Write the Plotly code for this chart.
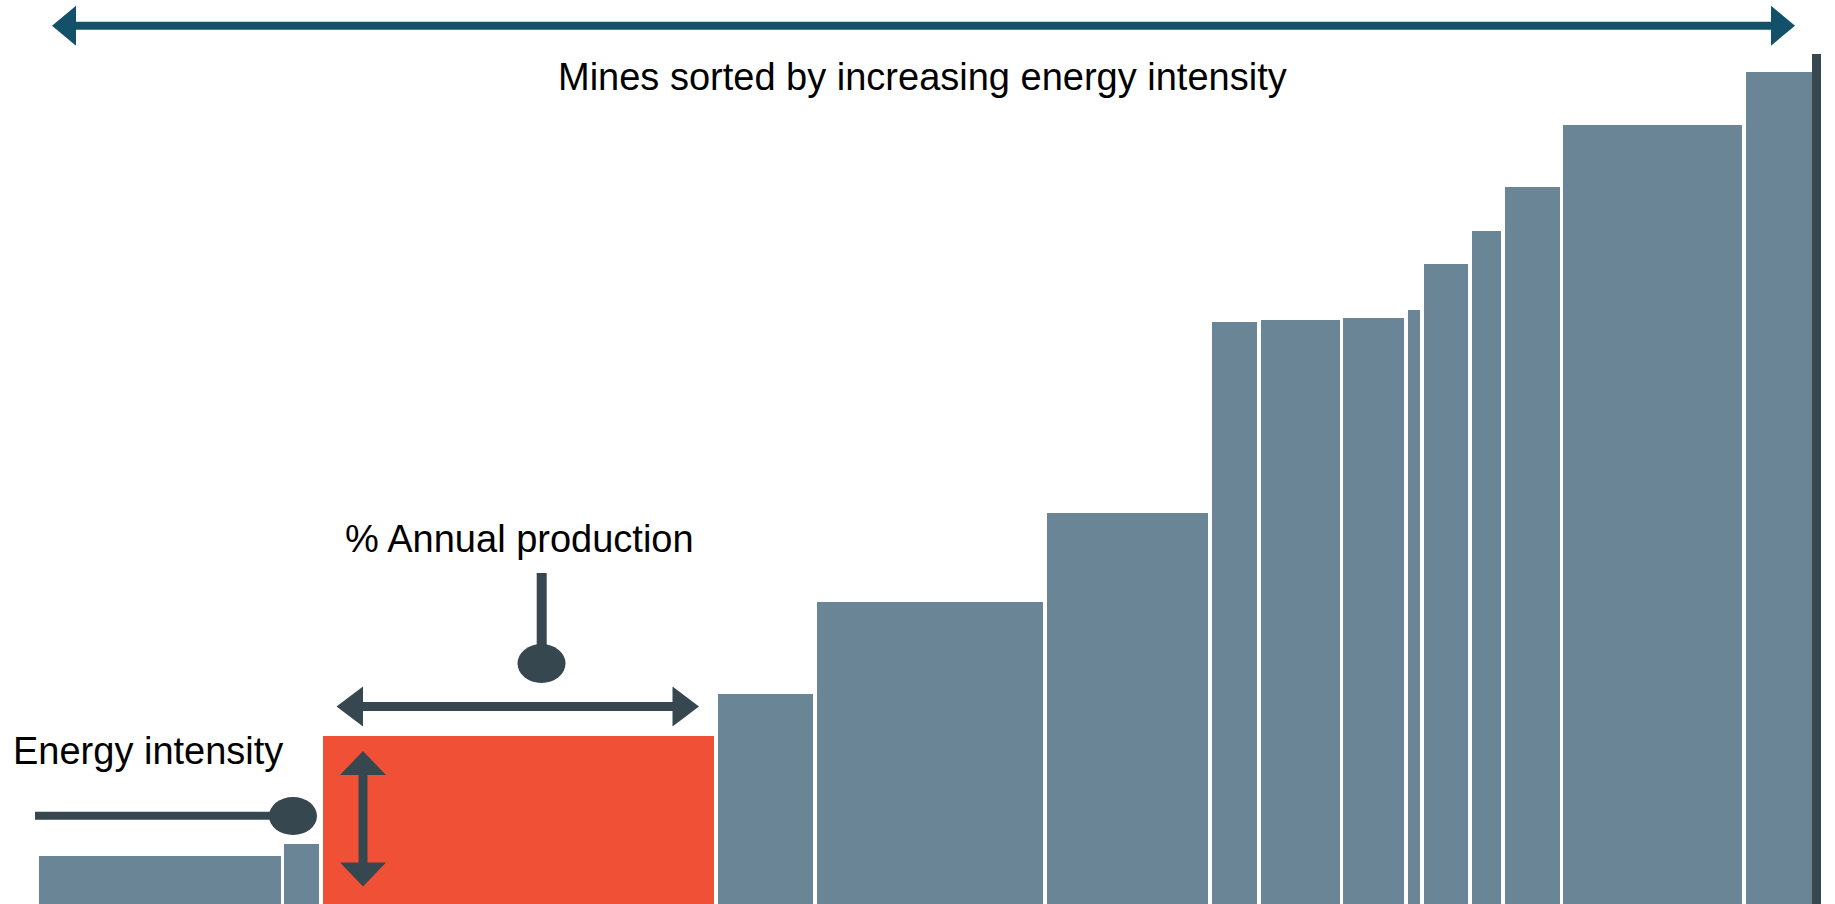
import plotly.graph_objects as go

# ---- data -------------------------------------------------------------
mines = [f"Mine {i}" for i in range(1, 17)]
# share of annual production (%) for each mine, sorted by energy intensity
production_share = [13.77, 2.16, 22.14, 5.54, 12.88, 9.25, 2.77, 4.60,
                    3.62, 0.90, 2.69, 1.87, 3.27, 10.22, 3.90, 0.42]
# energy intensity (arbitrary units)
energy_intensity = [5.6, 7.1, 19.8, 24.7, 35.5, 46.0, 68.5, 68.7,
                    69.0, 69.9, 75.3, 79.2, 84.3, 91.6, 97.9, 100.0]
highlight_index = 2
last_index = 15

# ---- styling ----------------------------------------------------------
W, H = 1835, 904
BAR = "#6A8596"
RED = "#F05036"
DARK = "#37474F"
TEAL = "#13506A"
FONT = "Liberation Sans, Arial, sans-serif"
GAP = 0.2  # visual gap between bars, in % units

lefts = []
acc = 0.0
for w in production_share:
    lefts.append(acc)
    acc += w

draw_left = [l + GAP / 2 for l in lefts]
draw_right = [l + w - GAP / 2 for l, w in zip(lefts, production_share)]
# the final (dark) mine sits flush against its neighbour
draw_left[last_index] = lefts[last_index] - GAP / 2
draw_right[last_index] = lefts[last_index] + production_share[last_index]
centers = [(a + b) / 2 for a, b in zip(draw_left, draw_right)]
draw_widths = [b - a for a, b in zip(draw_left, draw_right)]

colors = [BAR] * len(mines)
colors[highlight_index] = RED
colors[last_index] = DARK

fig = go.Figure(go.Bar(
    x=centers, y=energy_intensity, width=draw_widths,
    marker=dict(color=colors, line=dict(width=0)),
    hovertext=mines, hoverinfo="text",
))

# axis ranges: 0% sits at px 37, 100% at px 1821; baseline at the bottom
px_per_pct = (1821 - 37) / 100.0
px_per_unit = 8.5
fig.update_xaxes(range=[-37 / px_per_pct, (W - 37) / px_per_pct],
                 visible=False, fixedrange=True)
fig.update_yaxes(range=[0, H / px_per_unit], visible=False, fixedrange=True)


def P(x):
    return x / W


def Q(y):
    return 1 - y / H


shapes = []


def hline(x0, x1, y, width, color):
    shapes.append(dict(type="line", xref="paper", yref="paper",
                       x0=P(x0), x1=P(x1), y0=Q(y), y1=Q(y),
                       line=dict(color=color, width=width)))


def vline(x, y0, y1, width, color):
    shapes.append(dict(type="line", xref="paper", yref="paper",
                       x0=P(x), x1=P(x), y0=Q(y0), y1=Q(y1),
                       line=dict(color=color, width=width)))


def tri(pts, color):
    path = "M " + " L ".join(f"{P(x)},{Q(y)}" for x, y in pts) + " Z"
    shapes.append(dict(type="path", xref="paper", yref="paper", path=path,
                       fillcolor=color, line=dict(width=0)))


def ellipse(cx, cy, rx, ry, color):
    shapes.append(dict(type="circle", xref="paper", yref="paper",
                       x0=P(cx - rx), x1=P(cx + rx), y0=Q(cy + ry), y1=Q(cy - ry),
                       fillcolor=color, line=dict(width=0)))


# top double arrow
ty = 25.7
hline(70, 1778, ty, 8, TEAL)
tri([(52, ty), (76, ty - 20), (76, ty + 20)], TEAL)
tri([(1795, ty), (1771, ty - 20), (1771, ty + 20)], TEAL)

# horizontal arrow above highlighted bar
ay = 706.5
hline(355, 681, ay, 9, DARK)
tri([(336.5, ay), (363, ay - 20), (363, ay + 20)], DARK)
tri([(699, ay), (672.5, ay - 20), (672.5, ay + 20)], DARK)

# vertical arrow inside highlighted bar
vx = 363
vline(vx, 768, 870, 9, DARK)
tri([(vx, 751), (vx - 23, 775), (vx + 23, 775)], DARK)
tri([(vx, 886.5), (vx - 23, 862.5), (vx + 23, 862.5)], DARK)

# pointer for "% Annual production"
vline(541.7, 573, 655, 10, DARK)
ellipse(541.5, 663.5, 24, 19.5, DARK)

# pointer for "Energy intensity"
hline(35, 282, 815.7, 8, DARK)
ellipse(293, 816, 24, 19, DARK)

annotations = [
    dict(text="Mines sorted by increasing energy intensity", x=P(922), y=Q(76.5),
         xanchor="center", yanchor="middle", font=dict(size=38)),
    dict(text="% Annual production", x=P(519), y=Q(538.5),
         xanchor="center", yanchor="middle", font=dict(size=38)),
    dict(text="Energy intensity", x=P(11), y=Q(751),
         xanchor="left", yanchor="middle", font=dict(size=38)),
]
for a in annotations:
    a.update(xref="paper", yref="paper", showarrow=False)
    a["font"].update(family=FONT, color="#000000")

fig.update_layout(
    width=W, height=H,
    margin=dict(l=0, r=0, t=0, b=0),
    paper_bgcolor="white", plot_bgcolor="white",
    showlegend=False, bargap=0,
    shapes=shapes, annotations=annotations,
)

fig.write_html(
    "out.html",
    config={"displayModeBar": False},
    post_script="document.body.style.margin='0';document.body.style.overflow='hidden';",
)
